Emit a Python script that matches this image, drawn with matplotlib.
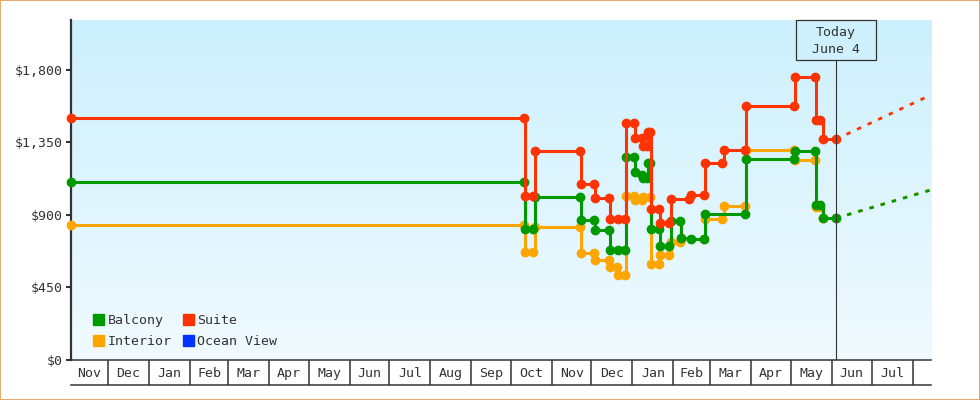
import matplotlib
matplotlib.use('Agg')
import matplotlib.pyplot as plt
import matplotlib.dates as mdates
from matplotlib.patches import Patch, Rectangle
from matplotlib.colors import LinearSegmentedColormap
import numpy as np
from datetime import datetime

# prices per cabin type
suite_dates = ['2023-11-03', '2024-10-11', '2024-10-12', '2024-10-18', '2024-10-19', '2024-11-22',
               '2024-11-23', '2024-12-03', '2024-12-04', '2024-12-14', '2024-12-15', '2024-12-21',
               '2024-12-26', '2024-12-27', '2025-01-02', '2025-01-03', '2025-01-08', '2025-01-09',
               '2025-01-12', '2025-01-13', '2025-01-14', '2025-01-15', '2025-01-21', '2025-01-22',
               '2025-01-29', '2025-01-30', '2025-02-13', '2025-02-14', '2025-02-24', '2025-02-25',
               '2025-03-10', '2025-03-11', '2025-03-27', '2025-03-28', '2025-05-03', '2025-05-04',
               '2025-05-19', '2025-05-20', '2025-05-23', '2025-05-25', '2025-06-04']
suite_prices = [1500, 1500, 1020, 1020, 1300, 1300, 1090, 1090, 1005, 1005, 875, 875,
                875, 1470, 1470, 1375, 1375, 1325, 1325, 1415, 1415, 935, 935, 850,
                850, 1000, 1000, 1025, 1025, 1220, 1220, 1305, 1305, 1575, 1575, 1755,
                1755, 1490, 1490, 1370, 1370]

balcony_dates = ['2023-11-03', '2024-10-11', '2024-10-12', '2024-10-18', '2024-10-19', '2024-11-22',
                 '2024-11-23', '2024-12-03', '2024-12-04', '2024-12-14', '2024-12-15', '2024-12-21',
                 '2024-12-26', '2024-12-27', '2025-01-02', '2025-01-03', '2025-01-08', '2025-01-09',
                 '2025-01-12', '2025-01-13', '2025-01-14', '2025-01-15', '2025-01-21', '2025-01-22',
                 '2025-01-29', '2025-01-30', '2025-02-06', '2025-02-07', '2025-02-14', '2025-02-24',
                 '2025-02-25', '2025-03-27', '2025-03-28', '2025-05-03', '2025-05-04', '2025-05-19',
                 '2025-05-20', '2025-05-23', '2025-05-25', '2025-06-04']
balcony_prices = [1105, 1105, 810, 810, 1010, 1010, 870, 870, 805, 805, 680, 680,
                  680, 1260, 1260, 1165, 1150, 1130, 1130, 1225, 1225, 815, 815, 705,
                  705, 860, 860, 755, 750, 750, 905, 905, 1245, 1245, 1295, 1295,
                  960, 960, 880, 880]

interior_dates = ['2023-11-03', '2024-10-11', '2024-10-12', '2024-10-18', '2024-10-19', '2024-11-22',
                  '2024-11-23', '2024-12-03', '2024-12-04', '2024-12-14', '2024-12-15', '2024-12-20',
                  '2024-12-21', '2024-12-26', '2024-12-27', '2025-01-02', '2025-01-03', '2025-01-08',
                  '2025-01-09', '2025-01-14', '2025-01-15', '2025-01-21', '2025-01-22', '2025-01-29',
                  '2025-01-30', '2025-02-06', '2025-02-07', '2025-02-24', '2025-02-25', '2025-03-10',
                  '2025-03-11', '2025-03-27', '2025-03-28', '2025-05-03', '2025-05-04', '2025-05-19',
                  '2025-05-20', '2025-05-23', '2025-05-25', '2025-06-04']
interior_prices = [835, 835, 670, 670, 825, 825, 665, 665, 620, 620, 580, 580,
                   530, 530, 1015, 1015, 995, 995, 1010, 1010, 595, 595, 650, 650,
                   730, 730, 750, 750, 875, 875, 955, 955, 1305, 1305, 1240, 1240,
                   950, 950, 880, 880]

# projected prices at the right edge
proj_date = '2025-08-15'
suite_proj = 1645
balcony_proj = 1055
interior_proj = 1058

today = '2025-06-04'
today_label = 'Today\nJune 4'

month_labels = ['Nov', 'Dec', 'Jan', 'Feb', 'Mar', 'Apr', 'May', 'Jun', 'Jul', 'Aug', 'Sep',
                'Oct', 'Nov', 'Dec', 'Jan', 'Feb', 'Mar', 'Apr', 'May', 'Jun', 'Jul']

legend_names = ['Balcony', 'Interior', 'Suite', 'Ocean View']
legend_colors = ['#009900', '#ffa500', '#ff3300', '#0033ff']

yticks = [0, 450, 900, 1350, 1800]
ytick_labels = ['$0', '$450', '$900', '$1,350', '$1,800']


def d(s):
    return datetime.strptime(s, '%Y-%m-%d')


plt.rcParams['font.family'] = ['DejaVu Sans Mono']
dark = '#333333'
fs = 9.5

fig = plt.figure(figsize=(9.8, 4.0), dpi=100)
ax = fig.add_axes([71 / 980, 40 / 400, 860 / 980, 340 / 400])

xmin = d('2023-11-03')
xmax = d(proj_date)

series = [(interior_dates, interior_prices, interior_proj, '#ffa500'),
          (balcony_dates, balcony_prices, balcony_proj, '#009900'),
          (suite_dates, suite_prices, suite_proj, '#ff3300')]
z = 3
for dates, prices, proj, col in series:
    xs = [d(s) for s in dates]
    ax.plot(xs, prices, drawstyle='steps-post', color=col, lw=2.2, zorder=z, clip_on=False)
    ax.plot(xs, prices, 'o', color=col, ms=6.0, zorder=z, clip_on=False)
    ax.plot([xs[-1], d(proj_date)], [prices[-1], proj], color=col, lw=2.0,
            dashes=(1.6, 2.6), zorder=z)
    z += 1

# gradient background
grad = np.linspace(1, 0, 256).reshape(-1, 1)
cmap = LinearSegmentedColormap.from_list('bg', ['#f0faff', '#ccf0fd'])
ax.imshow(grad, extent=[0, 1, 0, 1], transform=ax.transAxes, aspect='auto',
          cmap=cmap, zorder=0, vmin=0, vmax=1)
ax.set_xlim(xmin, xmax)
ax.set_ylim(0, 2110)

for s in ['top', 'right']:
    ax.spines[s].set_visible(False)
ax.spines['left'].set_color(dark)
ax.spines['left'].set_linewidth(1.6)
ax.spines['bottom'].set_color(dark)
ax.spines['bottom'].set_linewidth(1.1)

ax.set_yticks(yticks)
ax.set_yticklabels(ytick_labels)
ax.tick_params(axis='y', length=3.8, width=1.5, color=dark, labelcolor=dark,
               labelsize=fs, pad=2.2)

# month boxes under the axis
starts = []
y, m = 2023, 11
for i in range(len(month_labels) + 1):
    starts.append(datetime(y, m, 1))
    m += 1
    if m > 12:
        m = 1
        y += 1
bounds = starts[1:]
centers = []
for i in range(len(month_labels)):
    a = mdates.date2num(max(starts[i], xmin))
    b = mdates.date2num(min(starts[i + 1], xmax))
    centers.append((a + b) / 2)
ax.set_xticks(bounds)
ax.set_xticklabels([])
ax.set_xticks(centers, minor=True)
ax.set_xticklabels(month_labels, minor=True)
ax.tick_params(axis='x', which='major', length=18, width=1.1, color=dark)
ax.tick_params(axis='x', which='minor', length=0, labelsize=fs, labelcolor=dark, pad=5)
ax.plot([xmin, xmax], [-25 / 340, -25 / 340], transform=ax.get_xaxis_transform(),
        color=dark, lw=1.1, clip_on=False)

# today marker
t = mdates.date2num(d(today))
tx = (t - mdates.date2num(xmin)) / (mdates.date2num(xmax) - mdates.date2num(xmin))
box_h = 40 / 340
ax.plot([d(today), d(today)], [0, 1 - box_h], transform=ax.get_xaxis_transform(),
        color=dark, lw=0.8, zorder=6)
ax.add_patch(Rectangle((tx - 40 / 860, 1 - box_h), 80 / 860, box_h, transform=ax.transAxes,
                       fill=False, ec=dark, lw=0.9, zorder=6, clip_on=False))
ax.text(tx, 1 - box_h / 2 - 0.003, today_label, transform=ax.transAxes, ha='center', va='center',
        fontsize=fs, color=dark, linespacing=1.45, zorder=7)

handles = [Patch(color=c) for c in legend_colors]
ax.legend(handles, legend_names, loc='lower left', bbox_to_anchor=(22 / 860, 12 / 340),
          ncol=2, frameon=False, fontsize=fs, handlelength=0.85, handleheight=0.85,
          handletextpad=0.25, columnspacing=0.85, labelspacing=0.62, borderpad=0,
          borderaxespad=0, labelcolor=dark)

fig.patches.append(Rectangle((0, 0), 1, 1, transform=fig.transFigure, fill=False,
                             ec='#e8a868', lw=1.4))

fig.savefig('out.png', dpi=100)
